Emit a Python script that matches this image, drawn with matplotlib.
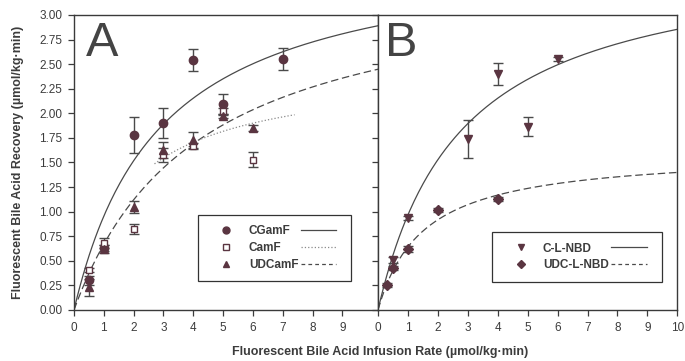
import matplotlib
matplotlib.use("Agg")
import matplotlib.pyplot as plt
import numpy as np
from matplotlib.lines import Line2D

plt.rcParams["font.family"] = ["Liberation Sans", "DejaVu Sans"]

# Panel A: conjugated fluorescent bile acids
CGAMF_X = [0.5, 1, 2, 3, 4, 5, 7]
CGAMF_Y = [0.30, 0.63, 1.78, 1.90, 2.54, 2.09, 2.55]
CGAMF_ERR = [0.05, 0.03, 0.18, 0.15, 0.11, 0.11, 0.11]

CAMF_X = [0.5, 1, 2, 3, 4, 5, 6]
CAMF_Y = [0.41, 0.68, 0.82, 1.58, 1.67, 2.02, 1.53]
CAMF_ERR = [0.02, 0.05, 0.05, 0.07, 0.03, 0.03, 0.08]

UDCAMF_X = [0.5, 1, 2, 3, 4, 5, 6]
UDCAMF_Y = [0.23, 0.62, 1.05, 1.63, 1.73, 1.97, 1.85]
UDCAMF_ERR = [0.09, 0.04, 0.06, 0.08, 0.08, 0.02, 0.03]

# Panel B: NBD-lysyl derivatives
CLNBD_X = [0.5, 1, 3, 4, 5, 6]
CLNBD_Y = [0.51, 0.94, 1.74, 2.40, 1.865, 2.555]
CLNBD_ERR = [0.03, 0.02, 0.19, 0.11, 0.095, 0.02]

UDCLNBD_X = [0.3, 0.5, 1, 2, 4]
UDCLNBD_Y = [0.25, 0.43, 0.62, 1.02, 1.13]
UDCLNBD_ERR = [0.02, 0.02, 0.03, 0.02, 0.02]

# saturation-kinetics fits (Vmax, Km)
FIT_CGAMF = (3.71, 2.89)
FIT_CAMF = (2.46, 1.77)
FIT_UDCAMF = (3.445, 4.15)
FIT_CLNBD = (3.645, 2.77)
FIT_UDCLNBD = (1.61, 1.51)
CAMF_VISIBLE = (2.7, 7.4)  # only this stretch of the dotted fit survives in the print

MARK = "#5a3541"
LINE = "#4a4a4a"
TXT = "#3c3c3c"


def mm(params, x):
    vmax, km = params
    return vmax * x / (km + x)


def pts(ax, x, y, err, marker, ms, filled=True):
    ax.errorbar(x, y, yerr=err, fmt=marker, ms=ms, color=LINE, ecolor=LINE,
                elinewidth=1.0, capsize=3.5, capthick=1.0,
                mfc=MARK if filled else "white", mec=MARK, mew=1.0, zorder=3)


def style(ax, xmax, xticks, show_ylabels):
    ax.set_xlim(0, xmax)
    ax.set_ylim(0, 3.0)
    ax.set_xticks(xticks)
    ax.set_yticks(np.arange(0, 3.01, 0.25))
    ax.tick_params(direction="out", length=4.5, width=0.9, labelsize=8.5, colors=TXT, pad=4)
    if show_ylabels:
        ax.set_yticklabels([f"{v:.2f}" for v in np.arange(0, 3.01, 0.25)])
    else:
        ax.set_yticklabels([])
    for s in ax.spines.values():
        s.set_color("#3a3a3a")
        s.set_linewidth(1.0)


fig = plt.figure(figsize=(6.85, 3.61), dpi=100)
axA = fig.add_axes([0.108, 0.1413, 0.444, 0.8172])
axB = fig.add_axes([0.5518, 0.1413, 0.437, 0.8172])

# ---- panel A
xa = np.linspace(0, 10.2, 200)
axA.plot(xa, mm(FIT_CGAMF, xa), "-", color=LINE, lw=0.9)
axA.plot(xa, mm(FIT_UDCAMF, xa), "--", color=LINE, lw=0.9, dashes=(6, 3))
xd = np.linspace(*CAMF_VISIBLE, 100)
axA.plot(xd, mm(FIT_CAMF, xd), ":", color="#8a8a8a", lw=0.9)
pts(axA, CGAMF_X, CGAMF_Y, CGAMF_ERR, "o", 6)
pts(axA, CAMF_X, CAMF_Y, CAMF_ERR, "s", 5, filled=False)
pts(axA, UDCAMF_X, UDCAMF_Y, UDCAMF_ERR, "^", 6)
style(axA, 10.2, range(0, 10), True)
axA.text(0.04, 0.862, "A", transform=axA.transAxes, fontsize=35, color="#444444", va="baseline")

legend_kw = dict(ncol=2, loc="center", frameon=True, fancybox=False, edgecolor="#333333",
                 framealpha=1, handlelength=3.0, handletextpad=0.4, columnspacing=0.2,
                 labelspacing=0.4, borderpad=0.9, prop={"weight": "bold", "size": 8.5})

hA = [Line2D([], [], ls="none", marker="o", ms=5, mfc=MARK, mec=MARK),
      Line2D([], [], ls="none", marker="s", ms=4.5, mfc="white", mec=MARK),
      Line2D([], [], ls="none", marker="^", ms=5, mfc=MARK, mec=MARK),
      Line2D([], [], ls="-", color=LINE, lw=0.9),
      Line2D([], [], ls=":", color="#8a8a8a", lw=0.9),
      Line2D([], [], ls="--", color=LINE, lw=0.9, dashes=(3, 2.5))]
legA = axA.legend(hA, ["CGamF", "CamF", "UDCamF", "", "", ""],
                  bbox_to_anchor=(0.66, 0.21), **legend_kw)
legA.get_frame().set_linewidth(0.9)
for t in legA.get_texts():
    t.set_color(TXT)

# ---- panel B
xb = np.linspace(0, 10, 200)
axB.plot(xb, mm(FIT_CLNBD, xb), "-", color=LINE, lw=0.9)
axB.plot(xb, mm(FIT_UDCLNBD, xb), "--", color=LINE, lw=0.9, dashes=(6, 3))
pts(axB, CLNBD_X, CLNBD_Y, CLNBD_ERR, "v", 6)
pts(axB, UDCLNBD_X, UDCLNBD_Y, UDCLNBD_ERR, "D", 5)
style(axB, 10, range(0, 11), False)
axB.text(0.022, 0.862, "B", transform=axB.transAxes, fontsize=35, color="#444444", va="baseline")

hB = [Line2D([], [], ls="none", marker="v", ms=5, mfc=MARK, mec=MARK),
      Line2D([], [], ls="none", marker="D", ms=4.5, mfc=MARK, mec=MARK),
      Line2D([], [], ls="-", color=LINE, lw=0.9),
      Line2D([], [], ls="--", color=LINE, lw=0.9, dashes=(3, 2.5))]
legB = axB.legend(hB, ["C-L-NBD", "UDC-L-NBD", "", ""],
                  bbox_to_anchor=(0.665, 0.18), **legend_kw)
legB.get_frame().set_linewidth(0.9)
for t in legB.get_texts():
    t.set_color(TXT)

axA.set_ylabel("Fluorescent Bile Acid Recovery (µmol/kg·min)", fontsize=9,
               fontweight="bold", color=TXT, labelpad=11)
fig.text(0.555, 0.025, "Fluorescent Bile Acid Infusion Rate (µmol/kg·min)", ha="center",
         va="center", fontsize=9, fontweight="bold", color=TXT)

fig.savefig("out.png", dpi=100)
